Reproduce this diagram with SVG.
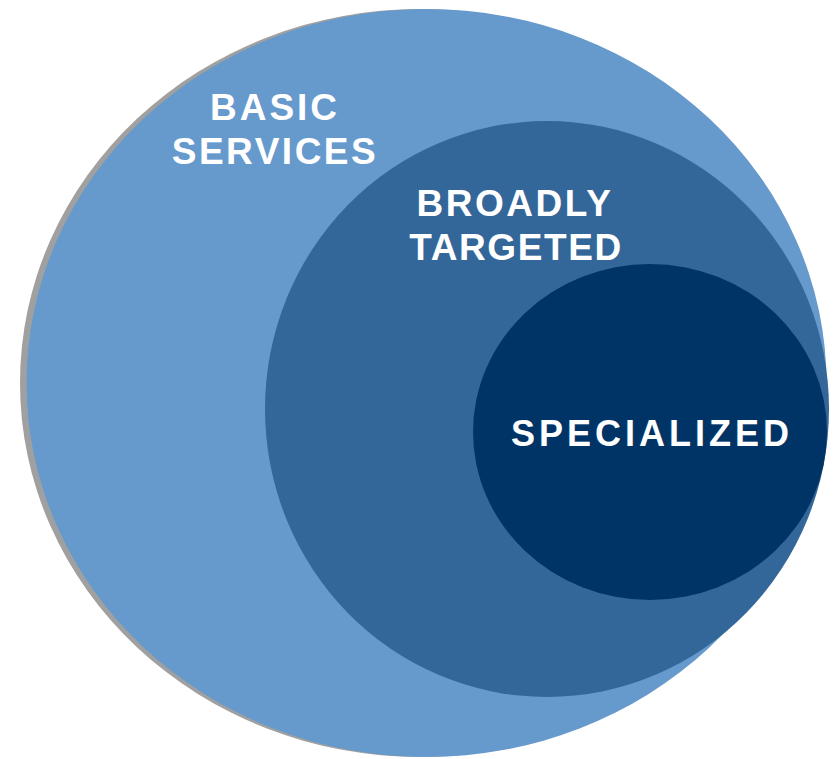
<svg xmlns="http://www.w3.org/2000/svg" width="833" height="759" viewBox="0 0 833 759">
<style>
.lbl{font-family:"Liberation Sans",Arial,sans-serif;font-weight:bold;fill:#FFFFFF;text-anchor:middle}
</style>
<rect width="833" height="759" fill="#FFFFFF"/>
<g id="basic">
<ellipse cx="420" cy="383" rx="400" ry="374" fill="#A0A0A0"/>
<ellipse cx="426.5" cy="383" rx="400" ry="374" fill="#6699CC"/>
<text class="lbl" x="275" y="120" font-size="37" letter-spacing="3">BASIC</text>
<text class="lbl" x="275" y="164" font-size="37" letter-spacing="2.5">SERVICES</text>
</g>
<g id="broadly">
<ellipse cx="547" cy="409" rx="282" ry="288" fill="#336699"/>
<text class="lbl" x="515" y="216" font-size="37" letter-spacing="2.5">BROADLY</text>
<text class="lbl" x="516" y="260" font-size="37" letter-spacing="1.6">TARGETED</text>
</g>
<g id="specialized">
<ellipse cx="650" cy="432" rx="177" ry="168" fill="#003366"/>
<text class="lbl" x="652" y="446" font-size="36" letter-spacing="4">SPECIALIZED</text>
</g>
<g id="connectors"/>
</svg>
